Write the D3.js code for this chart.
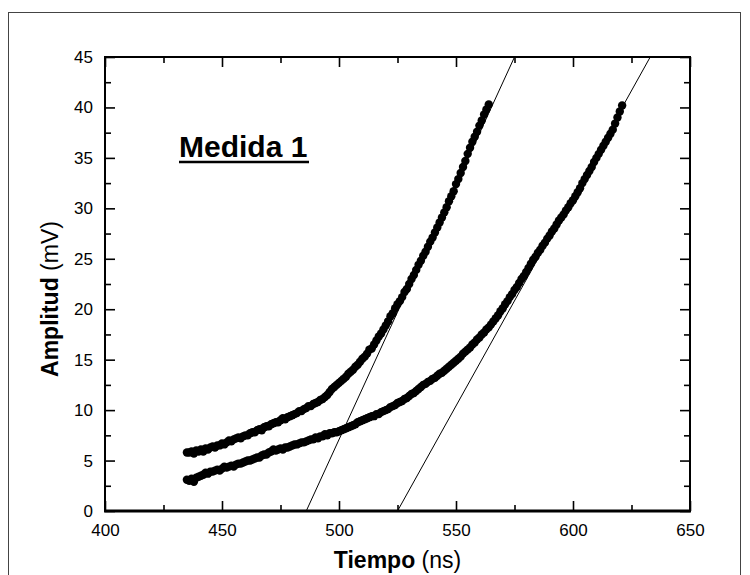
<!DOCTYPE html>
<html>
<head>
<meta charset="utf-8">
<script src="https://cdn.jsdelivr.net/npm/d3@7"></script>
<style>
  body { margin: 0; background: #fff; }
  svg { display: block; font-family: "Liberation Sans", Arial, sans-serif; }
</style>
</head>
<body>
<div id="chart"></div>
<script>
// sampling grid of both traces (ns)
const sampleStart = 435, sampleStep = 1;

// Medida 1, first trace (mV), one value per ns from 435 ns
const trace1 = [
  5.8, 5.8, 5.9, 5.7, 6.0, 5.9, 6.1, 5.9, 6.2, 6.1,
  6.3, 6.4, 6.3, 6.5, 6.5, 6.7, 6.6, 6.8, 7.0, 6.9,
  7.1, 7.2, 7.3, 7.2, 7.4, 7.5, 7.5, 7.7, 7.8, 7.8,
  8.0, 8.1, 8.0, 8.3, 8.4, 8.4, 8.6, 8.7, 8.8, 8.8,
  9.0, 9.2, 9.1, 9.3, 9.4, 9.5, 9.6, 9.7, 9.9, 9.9,
  10.1, 10.2, 10.4, 10.4, 10.6, 10.7, 10.8, 11.0, 11.1, 11.3,
  11.5, 11.8, 12.1, 12.3, 12.5, 12.7, 12.9, 13.1, 13.3, 13.6,
  13.8, 14.0, 14.3, 14.5, 14.8, 15.1, 15.3, 15.6, 16.0, 16.1,
  16.5, 16.9, 17.3, 17.6, 18.0, 18.4, 18.8, 19.3, 19.6, 20.1,
  20.5, 20.8, 21.2, 21.7, 22.0, 22.5, 23.0, 23.4, 23.9, 24.4,
  24.8, 25.3, 25.7, 26.2, 26.7, 27.1, 27.6, 28.1, 28.6, 29.1,
  29.6, 30.1, 30.7, 31.2, 31.7, 32.4, 32.9, 33.5, 34.1, 34.7,
  35.4, 36.0, 36.6, 37.1, 37.6, 38.2, 38.7, 39.3, 39.8, 40.3
];

// second trace (mV), one value per ns from 435 ns
const trace2 = [
  3.1, 3.0, 3.2, 2.9, 3.3, 3.4, 3.5, 3.6, 3.8, 3.7,
  3.9, 3.9, 4.0, 4.1, 4.0, 4.2, 4.4, 4.3, 4.4, 4.5,
  4.4, 4.6, 4.7, 4.7, 4.8, 4.9, 5.0, 5.0, 5.1, 5.2,
  5.3, 5.3, 5.5, 5.6, 5.6, 5.8, 5.9, 6.1, 6.0, 6.1,
  6.2, 6.1, 6.3, 6.3, 6.4, 6.5, 6.6, 6.6, 6.7, 6.8,
  6.8, 6.9, 7.0, 7.1, 7.1, 7.3, 7.2, 7.4, 7.4, 7.6,
  7.5, 7.7, 7.7, 7.8, 7.8, 7.9, 8.0, 8.1, 8.2, 8.3,
  8.4, 8.5, 8.6, 8.8, 8.9, 9.0, 9.1, 9.2, 9.3, 9.4,
  9.4, 9.6, 9.6, 9.8, 9.9, 10.0, 10.1, 10.3, 10.4, 10.5,
  10.7, 10.8, 10.9, 11.1, 11.2, 11.4, 11.6, 11.7, 11.9, 12.1,
  12.3, 12.5, 12.6, 12.8, 12.9, 13.1, 13.2, 13.4, 13.6, 13.7,
  13.9, 14.1, 14.3, 14.5, 14.7, 14.9, 15.1, 15.3, 15.6, 15.8,
  16.0, 16.2, 16.5, 16.7, 17.0, 17.2, 17.5, 17.7, 18.0, 18.2,
  18.5, 18.8, 19.1, 19.4, 19.8, 20.1, 20.5, 20.8, 21.2, 21.5,
  21.9, 22.2, 22.6, 23.0, 23.3, 23.7, 24.1, 24.5, 24.9, 25.2,
  25.6, 25.9, 26.3, 26.6, 27.0, 27.3, 27.7, 28.0, 28.4, 28.8,
  29.1, 29.4, 29.8, 30.1, 30.5, 30.8, 31.2, 31.6, 32.0, 32.5,
  32.9, 33.3, 33.7, 34.1, 34.6, 35.0, 35.4, 35.8, 36.2, 36.6,
  37.0, 37.4, 37.8, 38.4, 39.0, 39.6, 40.2
];

// tangent lines (end points, ns / mV)
const fit1T = [486, 575], fit1V = [0, 45];
const fit2T = [525, 633], fit2V = [0, 45];

const xTicks = [400, 450, 500, 550, 600, 650];
const xMinor = [425, 475, 525, 575, 625];
const yTicks = [0, 5, 10, 15, 20, 25, 30, 35, 40, 45];
const yMinor = [2.5, 7.5, 12.5, 17.5, 22.5, 27.5, 32.5, 37.5, 42.5];

const W = 750, H = 575;
const box = { left: 105, right: 690, top: 57, bottom: 511 };

const svg = d3.select("#chart")
  .append("svg")
  .attr("width", W)
  .attr("height", H);

// outer frame of the figure
svg.append("rect")
  .attr("x", 8.5).attr("y", 12.5)
  .attr("width", 732).attr("height", 600)
  .attr("fill", "none")
  .attr("stroke", "#444")
  .attr("stroke-width", 1);

const x = d3.scaleLinear().domain([400, 650]).range([box.left, box.right]);
const y = d3.scaleLinear().domain([0, 45]).range([box.bottom, box.top]);

function styleAxis(g) {
  g.select(".domain").remove();
  g.selectAll(".tick line").attr("stroke", "#000").attr("stroke-width", 1.6);
  g.selectAll(".tick text")
    .attr("fill", "#000")
    .style("font-size", "17px")
    .style("font-family", "'Liberation Sans', Arial, sans-serif");
}

// bottom axis with labels, ticks inward
svg.append("g")
  .attr("transform", `translate(0,${box.bottom})`)
  .call(d3.axisBottom(x).tickValues(xTicks).tickSize(-10).tickPadding(13).tickFormat(d3.format("d")))
  .call(styleAxis);
svg.append("g")
  .attr("transform", `translate(0,${box.bottom})`)
  .call(d3.axisBottom(x).tickValues(xMinor).tickSize(-6).tickFormat(""))
  .call(styleAxis);

// top axis, ticks only
svg.append("g")
  .attr("transform", `translate(0,${box.top})`)
  .call(d3.axisTop(x).tickValues(xTicks).tickSize(-10).tickFormat(""))
  .call(styleAxis);
svg.append("g")
  .attr("transform", `translate(0,${box.top})`)
  .call(d3.axisTop(x).tickValues(xMinor).tickSize(-6).tickFormat(""))
  .call(styleAxis);

// left axis with labels
svg.append("g")
  .attr("transform", `translate(${box.left},0)`)
  .call(d3.axisLeft(y).tickValues(yTicks).tickSize(-10).tickPadding(12).tickFormat(d3.format("d")))
  .call(styleAxis);
svg.append("g")
  .attr("transform", `translate(${box.left},0)`)
  .call(d3.axisLeft(y).tickValues(yMinor).tickSize(-6).tickFormat(""))
  .call(styleAxis);

// right axis, ticks only
svg.append("g")
  .attr("transform", `translate(${box.right},0)`)
  .call(d3.axisRight(y).tickValues(yTicks).tickSize(-10).tickFormat(""))
  .call(styleAxis);
svg.append("g")
  .attr("transform", `translate(${box.right},0)`)
  .call(d3.axisRight(y).tickValues(yMinor).tickSize(-6).tickFormat(""))
  .call(styleAxis);

// plot frame
const frame = svg.append("g").attr("stroke", "#000").attr("fill", "none");
frame.append("line").attr("x1", box.left - 1).attr("x2", box.right + 1).attr("y1", box.bottom).attr("y2", box.bottom).attr("stroke-width", 3);
frame.append("line").attr("x1", box.left).attr("x2", box.left).attr("y1", box.top - 1).attr("y2", box.bottom).attr("stroke-width", 2);
frame.append("line").attr("x1", box.left).attr("x2", box.right).attr("y1", box.top).attr("y2", box.top).attr("stroke-width", 2);
frame.append("line").attr("x1", box.right).attr("x2", box.right).attr("y1", box.top - 1).attr("y2", box.bottom).attr("stroke-width", 2);

// tangent lines
const line = d3.line().x(d => x(d[0])).y(d => y(d[1]));
[[fit1T, fit1V], [fit2T, fit2V]].forEach(([ts, vs]) => {
  svg.append("path")
    .attr("d", line(ts.map((t, i) => [t, vs[i]])))
    .attr("fill", "none")
    .attr("stroke", "#000")
    .attr("stroke-width", 1);
});

// data dots
[trace1, trace2].forEach(tr => {
  svg.append("g")
    .selectAll("circle")
    .data(tr)
    .enter()
    .append("circle")
    .attr("cx", (d, i) => x(sampleStart + i * sampleStep))
    .attr("cy", d => y(d))
    .attr("r", 4.2)
    .attr("fill", "#000");
});

// titles
const xt = svg.append("text")
  .attr("x", (box.left + box.right) / 2)
  .attr("y", 568)
  .attr("text-anchor", "middle")
  .style("font-size", "23px");
xt.append("tspan").attr("font-weight", "bold").text("Tiempo");
xt.append("tspan").text(" (ns)");

const yt = svg.append("text")
  .attr("transform", "translate(58,299) rotate(-90)")
  .attr("text-anchor", "middle")
  .style("font-size", "23px");
yt.append("tspan").attr("font-weight", "bold").text("Amplitud");
yt.append("tspan").text(" (mV)");

svg.append("text")
  .attr("x", 179)
  .attr("y", 157)
  .attr("font-weight", "bold")
  .style("font-size", "30px")
  .text("Medida 1");
svg.append("line")
  .attr("x1", 179).attr("x2", 309)
  .attr("y1", 162).attr("y2", 162)
  .attr("stroke", "#000")
  .attr("stroke-width", 2.5);
</script>
</body>
</html>
